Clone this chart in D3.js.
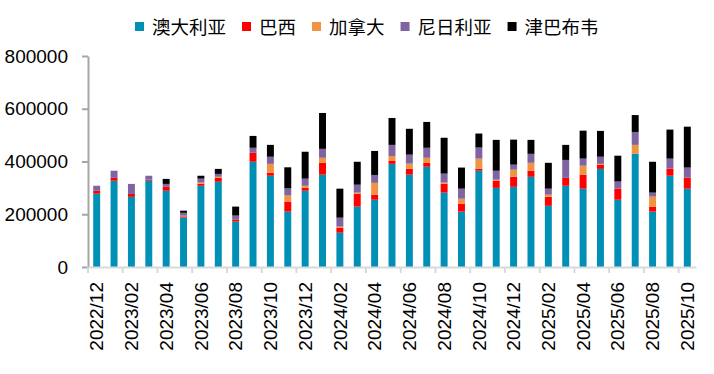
<!DOCTYPE html>
<html><head><meta charset="utf-8">
<script src="https://cdn.jsdelivr.net/npm/d3@7/dist/d3.min.js"></script>
<style>body{margin:0;background:#fff}svg{display:block}</style>
</head><body><svg id="c" width="714" height="374"></svg>
<script>
const months = ["2022/12","2023/01","2023/02","2023/03","2023/04","2023/05","2023/06","2023/07","2023/08","2023/09","2023/10","2023/11",
"2023/12","2024/01","2024/02","2024/03","2024/04","2024/05","2024/06","2024/07","2024/08","2024/09","2024/10","2024/11",
"2024/12","2025/01","2025/02","2025/03","2025/04","2025/05","2025/06","2025/07","2025/08","2025/09","2025/10"];
const seriesNames = ["澳大利亚","巴西","加拿大","尼日利亚","津巴布韦"];
const australia = [278000,327000,266000,327000,289000,188000,308000,323000,172000,399000,346000,210000,289000,350000,130000,229000,255000,391000,350000,380000,282000,210000,365000,300000,304000,342000,232000,308000,297000,372000,255000,429000,210000,346000,297000];
const brazil = [11000,11000,11000,4000,15000,4000,8000,15000,8000,34000,11000,38000,11000,45000,19000,49000,19000,11000,23000,15000,34000,30000,8000,27000,38000,23000,34000,30000,53000,15000,42000,0,19000,27000,42000];
const canada = [0,0,0,0,0,2500,4000,4000,0,0,34000,23000,8000,19000,4000,4000,45000,19000,19000,19000,4000,19000,38000,4000,27000,30000,8000,0,34000,4000,0,34000,38000,0,0];
const nigeria = [19000,27000,38000,15000,11000,11000,15000,11000,15000,19000,27000,27000,27000,34000,34000,30000,30000,42000,34000,38000,34000,38000,42000,34000,19000,34000,23000,68000,27000,27000,27000,49000,15000,38000,38000];
const zimbabwe = [0,0,0,0,19000,8000,11000,19000,34000,45000,45000,80000,102000,136000,110000,87000,91000,102000,98000,98000,136000,80000,53000,117000,95000,53000,98000,57000,106000,98000,98000,64000,117000,110000,155000];
const yTicks = [0,200000,400000,600000,800000];
const colors = ["#0090B6","#FF0000","#EE9442","#8064A2","#000000"];

const seriesData = [australia, brazil, canada, nigeria, zimbabwe];
const table = months.map((m,i)=>{const o={month:m}; seriesNames.forEach((s,j)=>o[s]=seriesData[j][i]); return o;});
const stacked = d3.stack().keys(seriesNames)(table);

const svg = d3.select("#c");
const mLeft=88, mRight=696, mTop=56, mBottom=267;
const p=0.6;
const x = d3.scaleBand().domain(months).range([mLeft,mRight]).paddingInner(p).paddingOuter(p/2);
const y = d3.scaleLinear().domain([0,800000]).range([mBottom,mTop]);

// bars
svg.append("g").selectAll("g").data(stacked).join("g")
  .attr("fill",(d,i)=>colors[i])
  .selectAll("rect").data(d=>d).join("rect")
  .attr("x",d=>x(d.data.month))
  .attr("width",x.bandwidth())
  .attr("y",d=>y(d[1]))
  .attr("height",d=>Math.max(0,y(d[0])-y(d[1])));

// y axis
const ya = svg.append("g").attr("transform",`translate(${mLeft},0)`)
  .call(d3.axisLeft(y).tickValues(yTicks).tickSizeInner(6).tickSizeOuter(0).tickPadding(14).tickFormat(d3.format("d")));
ya.select(".domain").attr("stroke","#A6A6A6").attr("stroke-width",2);
ya.selectAll(".tick line").attr("stroke","#A6A6A6").attr("stroke-width",2);
ya.selectAll(".tick text").attr("font-family","'Liberation Sans',Arial,sans-serif").attr("font-size",19).attr("fill","#000");

// x axis
const evenMonths = months.filter((m,i)=>i%2===0);
const xa = svg.append("g").attr("transform",`translate(0,${mBottom})`)
  .call(d3.axisBottom(x).tickValues(evenMonths).tickSize(0).tickPadding(0));
xa.select(".domain").attr("stroke","#D9D9D9").attr("stroke-width",2);
xa.selectAll(".tick line").remove();
xa.selectAll(".tick text")
  .attr("font-family","'Liberation Sans',Arial,sans-serif").attr("font-size",19).attr("fill","#000")
  .attr("transform","rotate(-90)").attr("text-anchor","end")
  .attr("x",-15).attr("y",0).attr("dy","0.35em");
const gap = (x.step()-x.bandwidth())/2;
svg.append("g").selectAll("line").data(evenMonths).join("line")
  .attr("x1",d=>x(d)-gap).attr("x2",d=>x(d)-gap)
  .attr("y1",mBottom).attr("y2",mBottom+6)
  .attr("stroke","#D9D9D9").attr("stroke-width",2);

// legend
const lg = svg.append("g");
let lx = 135;
seriesNames.forEach((s,i)=>{
  lg.append("rect").attr("x",lx).attr("y",22).attr("width",9).attr("height",9).attr("fill",colors[i]);
  const t = lg.append("text").attr("x",lx+17).attr("y",27).attr("dy","0.36em")
    .attr("font-family","'Noto Sans CJK SC',sans-serif").attr("font-size",18.5).attr("fill","#000").text(s);
  lx += 17 + t.node().getComputedTextLength() + 16;
});
</script></body></html>
